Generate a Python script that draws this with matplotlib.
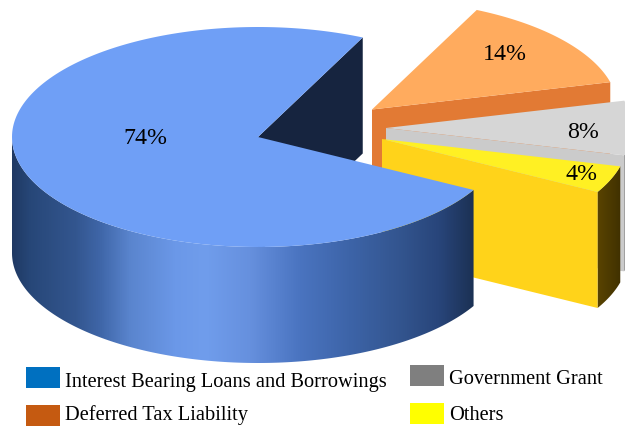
import numpy as np
import matplotlib
matplotlib.use("Agg")
import matplotlib.pyplot as plt
from matplotlib.patches import Polygon, Rectangle
from matplotlib.colors import LinearSegmentedColormap

categories = ["Interest Bearing Loans and Borrowings", "Deferred Tax Liability", "Government Grant", "Others"]
values = [74, 14, 8, 4]
pct_labels = ["74%", "14%", "8%", "4%"]
legend_colors = ["#0070c0", "#c55a11", "#7f7f7f", "#ffff00"]

START = 64.8
RX, RY, DEPTH = 246, 110, 116
CENTERS = [(258, 137), (372, 109.5), (386, 128), (382, 139)]
TOP = ["#6f9ff6", "#ffab5e", "#d6d6d6", "#fff023"]
FACE = ["#16243f", "#e27a34", "#cbcbcb", "#ffd31a"]
LABEL_POS = [(145, 139), (505, 55), (583, 133), (581, 174)]
FONT = "Liberation Serif"

fig = plt.figure(figsize=(6.25, 4.26), dpi=100)
ax = fig.add_axes([0, 0, 1, 1])
ax.axis("off")


def rim(c, deg, dy=0):
    t = np.radians(deg)
    return np.array([c[0] + RX * np.cos(t), c[1] - RY * np.sin(t) + dy])


def arc(c, a, b, dy=0, n=200):
    t = np.radians(np.linspace(a, b, n))
    return np.column_stack([c[0] + RX * np.cos(t), c[1] - RY * np.sin(t) + dy])


def wedge_top(c, a, b, color, z):
    pts = np.vstack([[c], arc(c, a, b)])
    ax.add_patch(Polygon(pts, closed=True, fc=color, ec="none", zorder=z))


def cut_face(c, deg, color, z):
    r0, r1 = rim(c, deg), rim(c, deg, DEPTH)
    pts = [c, r0, r1, (c[0], c[1] + DEPTH)]
    ax.add_patch(Polygon(pts, closed=True, fc=color, ec="none", zorder=z))


def side(c, a, b, stops, z):
    pts = np.vstack([arc(c, a, b), arc(c, b, a, DEPTH)])
    poly = Polygon(pts, closed=True, fc="none", ec="none", zorder=z)
    ax.add_patch(poly)
    x0, x1 = stops[0][0], stops[-1][0]
    cm = LinearSegmentedColormap.from_list(
        "g", [((x - x0) / (x1 - x0), col) for x, col in stops])
    grad = np.linspace(0, 1, 512)[None, :]
    im = ax.imshow(grad, cmap=cm, extent=(x0, x1, pts[:, 1].max(), pts[:, 1].min()),
                   aspect="auto", zorder=z, interpolation="bilinear")
    im.set_clip_path(poly)


# slice angle boundaries come from the values
shares = np.array(values) / sum(values) * 360
main_start = START
main_end = START + shares[0]
a_orange = (START, START - shares[1])
a_gray = (a_orange[1], a_orange[1] - shares[2])
a_yellow = (a_gray[1], a_gray[1] - shares[3])

# Deferred tax slice
cut_face(CENTERS[1], a_orange[1], FACE[1], 1)
wedge_top(CENTERS[1], *a_orange, TOP[1], 2)

# Government grant slice
gx = rim(CENTERS[2], a_gray[1])[0]
side(CENTERS[2], a_gray[1], 0,
     [(gx - 1, "#6e6e6e"), (gx + 12, "#555555")], 3)
cut_face(CENTERS[2], a_gray[1], FACE[2], 3)
wedge_top(CENTERS[2], *a_gray, TOP[2], 4)

# Others slice
yl, yr = rim(CENTERS[3], a_yellow[1])[0], rim(CENTERS[3], a_yellow[0])[0]
side(CENTERS[3], a_yellow[1], a_yellow[0],
     [(yl - 1, "#5a4400"), (yr + 1, "#3f3000")], 5)
cut_face(CENTERS[3], a_yellow[1], FACE[3], 5)
wedge_top(CENTERS[3], *a_yellow, TOP[3], 6)

# Main slice
cut_face(CENTERS[0], main_start, FACE[0], 7)
side(CENTERS[0], 180, main_end,
     [(11, "#1f3862"), (30, "#274778"), (75, "#33568f"), (100, "#3f66a8"),
      (130, "#5a85ce"), (175, "#6b98e8"), (205, "#709dec"), (250, "#6690de"),
      (300, "#4a74c0"), (350, "#3d64a8"), (400, "#33558f"), (440, "#28457a"),
      (476, "#1b3052")], 8)
wedge_top(CENTERS[0], main_start, main_end, TOP[0], 9)

for lab, (x, y) in zip(pct_labels, LABEL_POS):
    ax.text(x, y, lab, ha="center", va="center", fontsize=17.2, family=FONT,
            color="black", zorder=12)

leg_boxes = [(26, 367), (26, 405), (410, 365), (410, 403)]
leg_text = [(65, 383), (65, 415.5), (449, 379), (449, 415)]
for name, col, (bx, by), (tx, ty) in zip(categories, legend_colors, leg_boxes, leg_text):
    ax.add_patch(Rectangle((bx, by), 34, 21, fc=col, ec="none", zorder=12))
    ax.text(tx, ty, name, ha="left", va="center", fontsize=14.7, family=FONT,
            color="black", zorder=12)

ax.set_xlim(0, 625)
ax.set_ylim(426, 0)
fig.savefig("out.png", dpi=100, facecolor="white")
